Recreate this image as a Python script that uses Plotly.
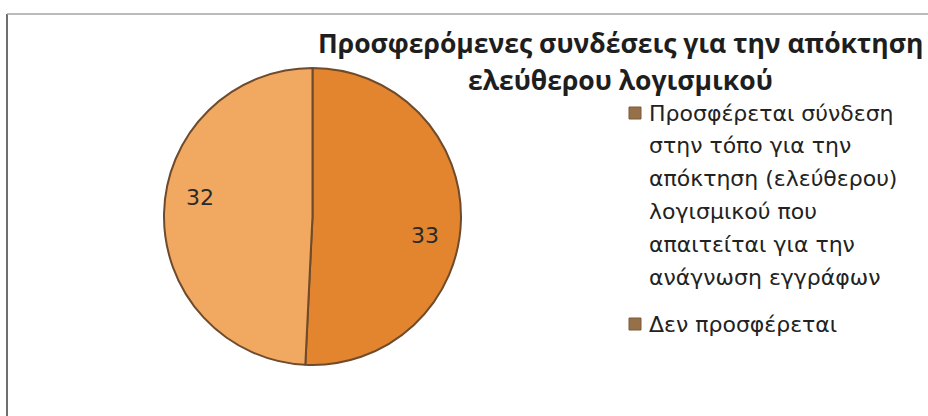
import math
import plotly.graph_objects as go

# Survey answers: does the site offer a link to obtain free software?
categories = [
    "Προσφέρεται σύνδεση στην τόπο για την απόκτηση (ελεύθερου) λογισμικού που απαιτείται για την ανάγνωση εγγράφων",
    "Δεν προσφέρεται",
]
counts = [33, 32]
legend_lines = [
    ["Προσφέρεται σύνδεση", "στην τόπο για την", "απόκτηση (ελεύθερου)",
     "λογισμικού που", "απαιτείται για την", "ανάγνωση εγγράφων"],
    ["Δεν προσφέρεται"],
]
title_lines = ["Προσφερόμενες συνδέσεις για την απόκτηση", "ελεύθερου λογισμικού"]

slice_colors = ["#E2852E", "#F1A860"]
W, H = 928, 416

# pie placement in pixels
cx, cy, R = 312.5, 216.5, 148.5

fig = go.Figure()
fig.add_trace(go.Pie(
    labels=categories,
    values=counts,
    sort=False,
    direction="clockwise",
    rotation=0,
    marker=dict(colors=slice_colors, line=dict(color="#6E4B2C", width=2)),
    textinfo="none",
    domain=dict(x=[(cx - R) / W, (cx + R) / W], y=[1 - (cy + R) / H, 1 - (cy - R) / H]),
    showlegend=False,
    hoverinfo="label+value",
))

annotations = []

# value labels placed along each slice's mid-angle (clockwise from 12 o'clock)
total = sum(counts)
start = 0.0
for v in counts:
    sweep = 360.0 * v / total
    ang = math.radians(start + sweep / 2 + 8)
    start += sweep
    px = cx + 0.77 * R * math.sin(ang)
    py = cy - 0.77 * R * math.cos(ang)
    annotations.append(dict(
        text=str(v), x=px / W, y=1 - py / H, xref="paper", yref="paper",
        xanchor="center", yanchor="middle", showarrow=False,
        font=dict(family="DejaVu Sans", size=22, color="#2a2a2a"),
    ))

# chart title, two centred lines
for i, line in enumerate(title_lines):
    annotations.append(dict(
        text=f"<b>{line}</b>", x=620 / W, y=1 - (43 + 37 * i) / H,
        xref="paper", yref="paper", xanchor="center", yanchor="middle",
        showarrow=False, font=dict(family="Open Sans", size=26.5, color="#1e1e1e"),
    ))

# legend: square swatches with wrapped labels
shapes = []
item_top = [113, 324]
for k, lines in enumerate(legend_lines):
    y0 = item_top[k]
    shapes.append(dict(
        type="rect", xref="paper", yref="paper",
        x0=629 / W, x1=641 / W, y0=1 - (y0 + 6) / H, y1=1 - (y0 - 6) / H,
        fillcolor="#957049", line=dict(color="#7a5a3a", width=1),
    ))
    for j, line in enumerate(lines):
        annotations.append(dict(
            text=line, x=647 / W, y=1 - (y0 + 32.8 * j) / H,
            xref="paper", yref="paper", xanchor="left", yanchor="middle",
            showarrow=False, font=dict(family="DejaVu Sans", size=22, color="#222222"),
        ))

# frame edges along the left and top
shapes.append(dict(type="line", xref="paper", yref="paper",
                   x0=7 / W, x1=7 / W, y0=0, y1=1 - 14 / H,
                   line=dict(color="#6f6f6f", width=2)))
shapes.append(dict(type="line", xref="paper", yref="paper",
                   x0=7 / W, x1=1, y0=1 - 14 / H, y1=1 - 14 / H,
                   line=dict(color="#a5a5a5", width=1.5)))

fig.update_layout(
    width=W, height=H,
    margin=dict(l=0, r=0, t=0, b=0),
    paper_bgcolor="white",
    plot_bgcolor="white",
    annotations=annotations,
    shapes=shapes,
)

fig.write_html("out.html")
